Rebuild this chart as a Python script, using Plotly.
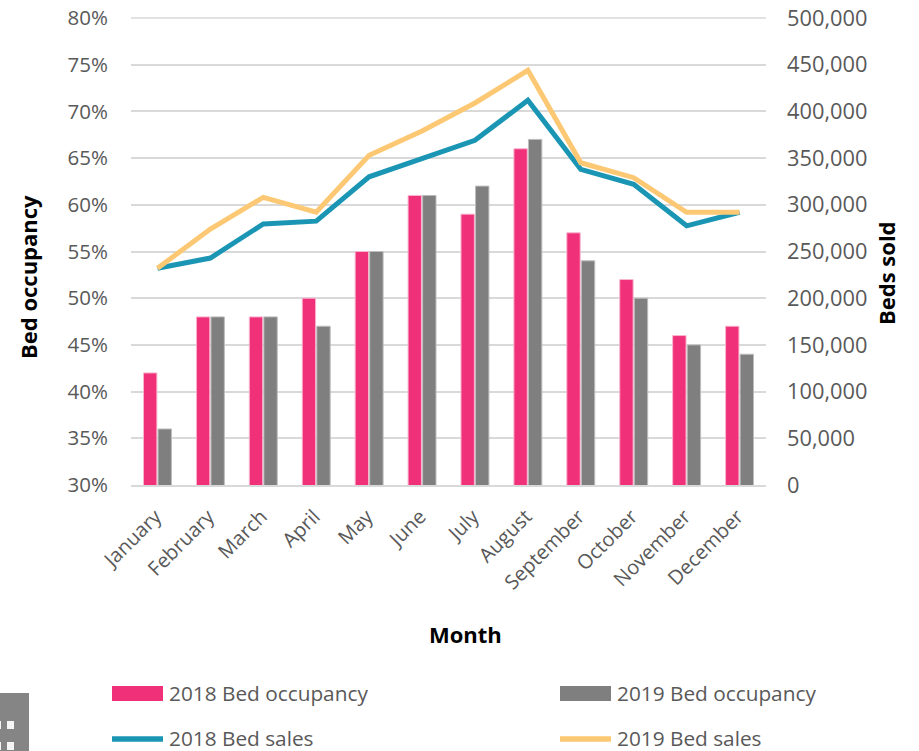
import plotly.graph_objects as go

months = ["January","February","March","April","May","June","July","August","September","October","November","December"]
occ_2018 = [42,48,48,50,55,61,59,66,57,52,46,47]
occ_2019 = [36,48,48,47,55,61,62,67,54,50,45,44]
sales_2018 = [232000,243000,279500,282500,330000,350000,369000,412000,338000,322000,277500,292000]
sales_2019 = [232000,274000,308000,292000,353000,379000,409000,444000,345000,329000,292000,292000]
left_ticks = list(range(30, 85, 5))
right_ticks = list(range(0, 550000, 50000))
names = ["2018 Bed occupancy","2019 Bed occupancy","2018 Bed sales","2019 Bed sales"]
colors = ["#F0317A","#7F7F7F","#1A96B4","#FDC873"]

W, H = 919, 751
L, R, T, B = 131, 766, 18, 485
FONT = "Open Sans"
TXT = "#595959"
fig = go.Figure()
fig.add_bar(x=months, y=occ_2018, name=names[0], marker=dict(color=colors[0], line=dict(color="#F9B5CF", width=1)), showlegend=False)
fig.add_bar(x=months, y=occ_2019, name=names[1], marker=dict(color=colors[1], line=dict(color="#BDBDBD", width=1)), showlegend=False)
fig.add_scatter(x=months, y=sales_2018, name=names[2], mode="lines", yaxis="y2", line=dict(color=colors[2], width=5), showlegend=False)
fig.add_scatter(x=months, y=sales_2019, name=names[3], mode="lines", yaxis="y2", line=dict(color=colors[3], width=5), showlegend=False)

def px(x): return (x - L) / (R - L)
def py(y): return (B - y) / (B - T)

shapes = [dict(type="line", xref="paper", yref="paper", x0=0, x1=1, y0=1, y1=1, layer="below",
               line=dict(color="#D9D9D9", width=1.5))]
annots = []
# manual two-by-two legend
slots = [(112, 693), (560, 693), (112, 738), (560, 738)]
for i, (name, col, (sx, sy)) in enumerate(zip(names, colors, slots)):
    if i < 2:
        shapes.append(dict(type="rect", xref="paper", yref="paper", x0=px(sx), x1=px(sx + 51),
                           y0=py(sy - 7), y1=py(sy + 8), fillcolor=col, line_width=0))
    else:
        shapes.append(dict(type="line", xref="paper", yref="paper", x0=px(sx), x1=px(sx + 51),
                           y0=py(sy + 1), y1=py(sy + 1), line=dict(color=col, width=5.5)))
    annots.append(dict(text=name, xref="paper", yref="paper", x=px(sx + 55), y=py(sy), xanchor="left",
                       yanchor="middle", showarrow=False, font=dict(family=FONT, size=20.8, color=TXT)))
# cropped grey icon at the lower-left edge
shapes.append(dict(type="rect", xref="paper", yref="paper", x0=px(0), x1=px(29), y0=py(751), y1=py(693),
                   fillcolor="#858585", line_width=0))
for sx_, sy_ in [(-6, 721), (7, 721), (-6, 742), (7, 742)]:
    shapes.append(dict(type="rect", xref="paper", yref="paper", x0=px(sx_), x1=px(sx_ + 7),
                       y0=py(sy_ + 8), y1=py(sy_), fillcolor="#F5F5F5", line_width=0))

title_font = dict(family=FONT, size=22, color="#000000")
annots.append(dict(text="<b>Beds sold</b>", xref="paper", yref="paper", x=px(886), y=py(273), textangle=-90,
                   xanchor="center", yanchor="middle", showarrow=False, font=title_font))
annots.append(dict(text="<b>Bed occupancy</b>", xref="paper", yref="paper", x=px(28), y=py(277), textangle=-90,
                   xanchor="center", yanchor="middle", showarrow=False, font=title_font))
annots.append(dict(text="<b>Month</b>", xref="paper", yref="paper", x=px(466), y=py(634),
                   xanchor="center", yanchor="middle", showarrow=False, font=title_font))

fig.update_layout(
    width=W, height=H, autosize=False,
    margin=dict(l=L, r=W - R, t=T, b=H - B, pad=0),
    paper_bgcolor="white", plot_bgcolor="white",
    barmode="group", bargap=0.45, bargroupgap=0.08,
    showlegend=False, shapes=shapes, annotations=annots,
    font=dict(family=FONT, size=20, color=TXT),
    xaxis=dict(tickangle=-45, showgrid=False, showline=True, linecolor="#D9D9D9", linewidth=2,
               ticks="", ticklabelstandoff=10, ticklabelshift=-2,
               tickfont=dict(family=FONT, size=20, color=TXT), automargin=False),
    yaxis=dict(range=[30, 80], tickvals=left_ticks, ticktext=[f"{v}%" for v in left_ticks],
               gridcolor="#D9D9D9", gridwidth=1.5, zeroline=False, ticks="", ticklabelstandoff=22,
               tickfont=dict(family=FONT, size=20.5, color=TXT), automargin=False),
    yaxis2=dict(range=[0, 500000], overlaying="y", side="right", tickvals=right_ticks,
                ticktext=[f"{v:,}" for v in right_ticks], showgrid=False, zeroline=False, ticks="",
                ticklabelstandoff=20, tickfont=dict(family=FONT, size=21.8, color=TXT), automargin=False),
)
fig.write_html("out.html", config=dict(displayModeBar=False),
               post_script="document.body.style.margin='0';document.documentElement.style.overflow='hidden';")
